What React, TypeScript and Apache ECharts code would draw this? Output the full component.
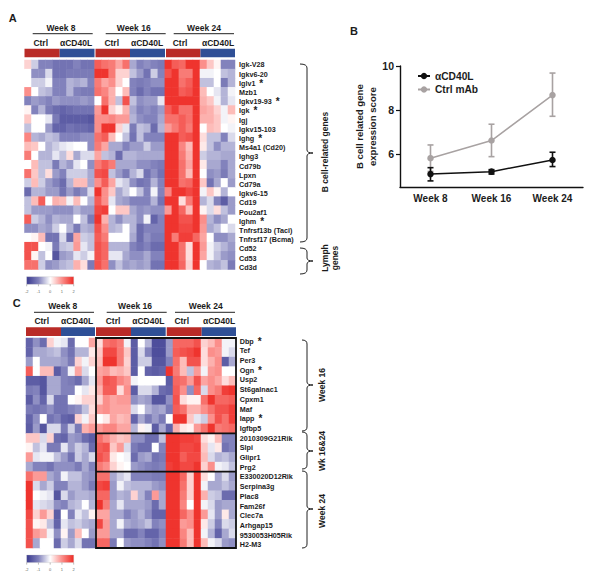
import React, { useEffect, useRef } from "react";
import * as echarts from "echarts";

const FONT = '"Liberation Sans", Arial, sans-serif';
const INK = "#1c1c1c";

const genesA = ["Igk-V28","Igkv6-20","Iglv1 *","Mzb1","Igkv19-93 *","Igk *","Igj","Igkv15-103","Ighg *","Ms4a1 (Cd20)","Ighg3","Cd79b","Lpxn","Cd79a","Igkv6-15","Cd19","Pou2af1","Ighm *","Tnfrsf13b (Taci)","Tnfrsf17 (Bcma)","Cd52","Cd53","Cd3d"];
const genesC = ["Dbp *","Tef","Per3","Ogn *","Usp2","St6galnac1","Cpxm1","Maf","Iapp *","Igfbp5","2010309G21Rik","Slpi","Glipr1","Prg2","E330020D12Rik","Serpina3g","Plac8","Fam26f","Clec7a","Arhgap15","9530053H05Rik","H2-M3"];

const heatA: number[][] = [
[.4,-.4,-1,-1,-1.2,-1.2,-1.2,-1,-1.2,-1.2, 1.5,1.3,1.2,.8,1.3,-.7,-1,-.9,-1,-1.1, 1.9,1.5,1.4,1.9,1.9,1,.5,.1,-1,-1],
[0,-.9,-.9,-.3,-1.2,-1.2,-1.1,-1.1,-1.1,-1.1, 1.9,1.9,1.2,.4,.4,-.5,-.8,-1.2,-.4,-1, 1.6,1.9,1.2,1.2,1.9,-.1,-.1,0,-.5,-.6],
[0,-.4,-.4,-.1,-1,-1,-.6,-.7,-.6,-1, 1.2,.8,1,.4,0,-1,-1.1,-1,-.9,-.9, 1.9,1.9,1.3,1.5,1.9,-.5,-.5,0,-1.1,-.6],
[1,0,-.5,-.6,-1,-1,-.6,-1,-1.1,-1.1, 1.3,1.1,.7,0,.6,-1,-1.3,-1,-1.2,-1.2, 1.9,1.9,1.5,1.6,1.9,.6,0,-.2,-.6,-.1],
[-1,-.8,-.9,-1,-.8,-.9,-.9,-.9,-.8,-.9, 0,1.3,.7,-.5,1.6,-.5,-.9,-.8,-.8,-.2, 1.9,1.9,1.9,1.9,1.9,.7,.5,-.1,-.6,-.2],
[.1,-1,-.6,-1.1,-1.3,-1.4,-1.3,-1.2,-1.2,-1.2, .9,1.9,.4,.1,.7,-.7,-1,-.9,-1,-.8, 1.5,1.8,1.3,1.3,1.9,.8,.7,.4,-.1,.6],
[.5,0,0,-.2,-1.1,-1.5,-1.5,-1.5,-1.5,-1.6, 1,1,1.1,.9,.9,-.6,-.9,-1,-1,-.7, 1.3,1.3,1.5,1.3,1.9,.7,.7,.5,-.1,.1],
[-.5,0,0,-.8,-1.4,-1.4,-1.2,-1.3,-1.3,-1.4, 1,1.9,1.9,.4,-.2,-1.1,-.5,-.6,-1.3,-.6, .9,1.2,1.5,1.2,1.9,0,.6,.5,0,-.1],
[1.1,-.6,-.7,-.5,-.6,-1,-1,-1,-.9,-.9, 1.3,1.5,.6,0,-.5,-1.2,-.5,-1,-1,-1, 1.9,1.9,1.5,1.6,1.9,.3,-.5,-.5,-1,-.3],
[.6,.5,0,-.6,-.4,-.2,-.1,0,0,-.9, 1.2,.8,-.7,-.7,-1,-.8,-.8,-.4,-.8,-.8, 1.9,1.9,1.1,.6,1.9,.2,-.5,-.9,-.6,-.6],
[1.2,0,-.6,-.6,-.2,-.5,.3,-.7,-.3,-.3, .8,-.5,-.6,-1.3,-.6,-.6,-.7,-.7,-.7,-.7, 1.9,1.9,1.2,.7,1.9,-.4,-.6,-.6,-.7,-.7],
[0,.6,-.5,-.5,-1.1,-.6,-.8,-.2,0,-.9, 1.2,1.5,1.2,-.7,-.7,-.7,-.9,-.9,-1,-1.1, 1.9,1.9,1.3,.8,1.9,.2,-.7,-.7,-1,-.7],
[1.3,.5,-.5,.3,-.8,-1,-.4,-.4,-.4,-.7, 1.6,1.7,-.5,-.8,-1.1,-.6,-.3,-1.2,-.9,-1.2, 1.9,1.9,1.3,.6,1.9,0,-.9,-.8,-1.1,-.7],
[-.4,.6,-.4,-.8,-1,-1.3,-.6,.6,.6,-.7, 1,1.5,.8,-.2,-.4,-.9,-1.2,-1.1,-.6,-1, 1.9,1.9,1.3,1.4,1.9,.5,-1.2,-.7,0,-.8],
[-1.3,-.6,-.6,-.8,-.8,-1.2,-.8,-1.1,-.9,-.3, 1.9,1,.5,-.7,-.4,0,-.5,-1,-.1,-1, 1.1,1.9,1.9,1.7,1.9,-.1,.5,.1,-.6,0],
[-.5,.6,1.5,0,.7,.6,-.1,.6,0,-.6, 1.5,1,-.2,-.7,-.8,-1,-1,-1,-.6,-1.2, 1.9,1.9,.3,1.2,1.9,-.6,-.3,-1,-1.5,-.8],
[-.5,-.8,-.8,-.8,-.9,-.9,-.9,-.6,-.8,-.8, 1.7,1.8,0,.5,.5,-.7,-.9,-.8,-.9,-.9, .9,1.9,1.4,.6,1.9,.1,-.3,.3,-.5,-.8],
[1.5,-.4,-.6,-.9,-.6,-.7,-.7,0,-.5,-1.1, 1.9,.7,-.6,-.9,-.6,-.6,-.9,-.1,-1.4,-1, 1.9,1.9,1.6,1.6,1.9,1,-.6,-.9,-.7,0],
[-.9,-.9,-.7,-.8,-.4,0,-.6,-1.1,-.6,-.7, 1.6,1,-.6,-.5,0,-.6,-1.3,-1,-1,-1, 1.9,1.9,1.7,1.7,1.9,.9,-.7,-.5,0,-.3],
[0,.1,.6,-1.2,-1.2,-.3,-1.3,.8,-.4,-.5, 1.5,1.2,0,0,0,-.7,-1.3,-.9,-1.1,-1.1, 1.9,1.2,1.8,1.8,1.4,.8,0,-.9,-.9,-.7],
[1.6,1.6,0,-.1,-1.1,-.5,-.4,.9,-.2,-.5, 1.6,1.4,-.6,-.6,-.6,-1,-1.2,-1,-1.3,-1.3, 1.9,1.9,1.3,.3,1.9,.9,-.1,-.4,-.6,-.8],
[1.6,.1,-.5,0,-1.6,-.8,-.7,-.2,-.4,-.1, 1.6,1.4,-.2,-.2,-.7,-.9,-.9,-.7,-1,-1, 1.9,1.9,1.3,.3,1.9,.8,-.1,-.5,-.8,-.9],
[1.3,1.3,-.4,-.9,-.8,-.6,-.5,.7,.3,-1.1, 1.6,1.3,-.9,-.5,-.8,-.7,-.8,-.7,-1.2,-1.2, 1.9,1.9,1.4,.4,1.9,0,-.6,-.7,-.5,-1.1],
];

const heatC: number[][] = [
[-1.4,-.9,-1.3,.4,-.1,-.2,-1.3,0,0,.8, .3,1.3,1.4,1.2,-.1,-1.5,0,-.6,-1.7,-1.7, -.8,1.4,1.4,1.4,1.6,.4,.6,1,-.1,-.1],
[-1.4,-.7,-.7,-.6,-.5,-.9,-1.2,-.6,-.6,.2, .5,1.7,1.7,1.2,.5,-1.5,-.3,-1,-1.7,-1.7, -.8,1.5,1.6,1.7,1.9,.3,1,.9,-.1,-.3],
[-.8,0,-.7,-.7,-.7,-.8,-1.1,.4,-.1,.4, .6,1.9,1.9,1.2,.4,-1.5,-.4,-.4,-1.6,-1.6, -1,1.3,.6,1.6,1.6,.3,.7,1,-1.5,-.7],
[1.5,0,.6,.6,-1.5,-1,-.1,.8,-.3,0, .8,.9,.6,.7,.5,-1.5,0,-1.4,-1.5,-1.4, 1.9,1.2,.6,-.5,.9,-.1,.9,1,0,0],
[-1.5,-1.5,-1.6,-.7,-.7,-1,-1.1,-1.3,-.7,-.2, .9,1.6,1.5,1.1,.9,-.1,0,0,0,0, -1.5,1.4,1.3,.9,1.6,.8,1,.8,.3,.6],
[-1.1,-1,-1.6,-.7,-.7,-1,-1,0,-.2,.2, .7,1.5,1.5,.3,1,-1.5,-.3,-.3,-.6,-1.3, -1.4,1.5,1,-.9,1.4,-.3,1,1.2,1.8,1.9],
[-1.5,-.9,-1.4,-.3,-1.2,-1.2,0,.1,.4,.4, .4,1,.8,.9,.9,-.9,-.7,-.8,-1.6,-1.6, -.9,1.6,.3,.1,.1,1.3,1.9,1.4,1.4,1.5],
[-1.1,-1.2,-1.1,-.9,-1.2,-1.2,-1,-.9,-.5,.3, .9,1,.8,.8,.8,-.3,0,-.6,-.8,-.7, -1.1,1.5,1.3,.7,.7,1,1.3,1.6,1.6,1.8],
[-1.4,-.9,0,-1.2,-1,-1.4,-1.5,.4,-.1,.5, 0,.2,.8,.6,.7,-1.4,-.7,-1.1,-.8,-1.1, 0,1.9,1.9,.5,-.2,-.4,1,1.6,1.3,1.8],
[-1.5,-.8,-1.6,-.3,-.3,-1.1,-.4,-1.1,.7,.9, .9,1.1,1.1,.8,.8,-.6,.1,-.1,-1.5,-.7, -1.4,.7,.2,.1,.9,1.3,1.9,1.2,1.3,1.4],
[.5,.5,-.3,.4,-1.3,-1.4,-.8,-.9,-1.3,-1.5, 1.3,1,.7,.5,.6,-.9,-.9,-1.3,-1.3,-.5, 1.9,1.9,1.8,1.8,1.7,.3,.1,.6,-1,-1],
[.1,-.5,-.2,-1.1,-1.1,-.2,-.8,-.4,-.6,-1.3, 1.5,1.6,.5,.9,-.3,-1.1,-1.3,-1.3,0,-1, 1.9,1.9,1.7,1.7,1.8,.5,-.2,.2,-1.2,-1],
[.9,-.2,-.1,-.1,-.5,-.8,-1.2,-.4,-.7,-.3, 1.6,1.4,.2,0,-.1,-1.3,-.8,-.7,-1.2,-1.1, 1.9,1.9,1.5,1.7,1.7,.6,-.3,-.6,-.5,-.7],
[-.7,-1,-1,-1.2,-.9,-.9,-.9,-1.1,-.7,-1, 1.2,1,.4,.1,0,-.8,-.9,-1,-1.1,-1, 1.8,1.9,1.7,1.7,1.9,.4,1,-.1,-.2,-.5],
[1.3,.9,.9,-.7,-.9,-.1,-.5,-.5,-.8,-.9, 1.3,1.3,-.7,-.4,-.2,-1,-1,-1,-1.1,-1.1, 1.9,1.9,1.4,.4,1.9,.3,0,-.7,-.3,-.8],
[1.9,-.3,-.7,-.4,-1,-1,-.6,-.6,-.8,-1.1, 1.7,1.8,-.8,-.1,-.5,-.6,-.6,-.6,-.8,-.9, 1.9,1.9,1.3,.4,1.9,-.1,-.7,-.7,-.5,-.7],
[1.9,0,-.1,-.2,-1.6,-.3,-.8,-.6,-.6,-.7, 1.4,1.4,-.8,-.6,-.7,.4,-.6,-1,.9,-.7, 1.9,1.9,1.2,.4,1.9,.7,-.4,-.5,-1.3,-1.3],
[1.9,-.2,-.3,-.4,-.9,-1,-.6,-.5,0,-.6, 1.9,1.2,-.7,-.2,-.7,-.7,-.7,-.8,-1.3,-.7, 1.9,1.9,1.1,0,1.9,-.1,-.3,-.8,-.7,-.7],
[1.7,.4,.9,.4,-1.5,0,-1,-.2,-.5,.1, .8,.8,-.7,-.7,-1,-.8,-.6,-.9,-1.4,-1.4, 1.9,1.9,1.4,1,1.9,.9,-.2,-.8,.2,-.7],
[1.6,.1,.2,-.5,-1.4,-.2,-.5,-.4,-.6,-.7, 1.7,.9,-.7,-.1,-.7,-.8,-.7,-.5,-1,-.9, 1.9,1.9,.9,1,1.9,.2,-.4,-1,-.3,-.4],
[1.6,.9,.7,-.1,-.9,.1,-.8,.6,0,-.8, .9,.9,-.7,-.7,-1.3,-1.3,-1,-1.4,-1.4,-1, 1.9,1.9,1.1,.6,1.9,-.1,-.6,-1.4,-.7,-.3],
[1.6,-.7,0,0,-1.3,-.4,-.7,-.3,-1.2,-1.2, 1.4,1.4,-1.1,0,-.8,-.9,-.9,-1,-1.2,-.9, 1.9,1.9,1.2,.6,1.9,.6,-.1,-.3,-.8,-.9],
];

const weeks = ["Week 8", "Week 16", "Week 24"];
const scoreAntiCD40L = [5.1, 5.21, 5.74];
const scoreAntiLow = [4.79, 5.1, 5.44];
const scoreAntiHigh = [5.39, 5.3, 6.09];
const scoreCtrl = [5.82, 6.62, 8.68];
const scoreCtrlLow = [5.22, 5.89, 7.72];
const scoreCtrlHigh = [6.42, 7.36, 9.68];
const yTicks = [6, 8, 10];
const colorScale = ["#38388e", "#8282bc", "#ffffff", "#fb8f8b", "#ee2a24"];
const legendTicks = ["-2", "-1", "0", "1", "2"];

const cells = (rows: number[][]) =>
  rows.flatMap((row, y) => row.map((v, x) => [x, y, v]));

const colNames = Array.from({ length: 30 }, (_, i) => String(i));

function brace(name: string, top: number, mid: number, bot: number, x0 = 300) {
  const x1 = 307, x2 = 313;
  const d = `M${x0} ${top}Q${x1} ${top} ${x1} ${top + 4}L${x1} ${mid - 3}Q${x1} ${mid} ${x2} ${mid}Q${x1} ${mid} ${x1} ${mid + 3}L${x1} ${bot - 4}Q${x1} ${bot} ${x0} ${bot}`;
  echarts.graphic.registerShape(name, echarts.graphic.extendPath(d, {}));
  return { type: name, x: 0, y: 0, silent: true, style: { fill: "none", stroke: "#222", lineWidth: 1 } };
}

const txt = (text: string, x: number, y: number, fontSize = 8.5, extra: any = {}) => ({
  type: "text", x, y, rotation: extra.rotation ?? 0, silent: true,
  style: {
    text, fill: INK, font: `bold ${fontSize}px ${FONT}`,
    textAlign: extra.align ?? "center", textVerticalAlign: "middle",
  },
});
const vtxt = (text: string, x: number, y: number, fontSize = 8.5) =>
  txt(text, x, y, fontSize, { rotation: Math.PI / 2 });

const hline = (x1: number, x2: number, y: number) => ({
  type: "line", silent: true, shape: { x1, y1: y, x2, y2: y }, style: { stroke: "#222", lineWidth: 1 },
});
const rect = (x: number, y: number, width: number, height: number, fill: string) => ({
  type: "rect", silent: true, shape: { x, y, width, height }, style: { fill },
});

function colourKey(x: number, y: number) {
  const w = 47, h = 7.6;
  const items: any[] = [{
    type: "rect", silent: true, shape: { x, y, width: w, height: h },
    style: {
      fill: new echarts.graphic.LinearGradient(0, 0, 1, 0,
        colorScale.map((color, i) => ({ offset: i / (colorScale.length - 1), color }))),
      stroke: "#bbb", lineWidth: 0.3,
    },
  }];
  legendTicks.forEach((t, i) => {
    const tx = x + (w * i) / 4;
    items.push({ type: "line", silent: true, shape: { x1: tx, y1: y + h, x2: tx, y2: y + h + 2 }, style: { stroke: "#777", lineWidth: 0.5 } });
    items.push({
      type: "text", x: tx, y: y + h + 7, silent: true,
      style: { text: t, fill: "#666", font: `4px ${FONT}`, textAlign: "center", textVerticalAlign: "middle" },
    });
  });
  return items;
}

function header(yWeek: number, yLine: number, ySub: number, yBar: number, xs: any) {
  const items: any[] = [];
  weeks.forEach((w, i) => {
    items.push(txt(w, xs.week[i], yWeek));
    items.push(hline(xs.line[i][0], xs.line[i][1], yLine));
    items.push(txt("Ctrl", xs.ctrl[i], ySub));
    items.push(txt("αCD40L", xs.anti[i], ySub));
    items.push(rect(xs.bar[i][0], yBar, xs.bar[i][1] - xs.bar[i][0], 8.6, "#b92b27"));
    items.push(rect(xs.bar[i][1], yBar, xs.bar[i][2] - xs.bar[i][1], 8.6, "#2f4f96"));
  });
  return items;
}

const boxLeft = 96, boxRight = 236, boxTop = 338, boxBottom = 548;
const rowC = (boxBottom - boxTop) / genesC.length;

function errorSeries(low: number[], high: number[], color: string, xAxisIndex: number, yAxisIndex: number) {
  return {
    type: "custom", xAxisIndex, yAxisIndex, silent: true, z: 3,
    data: low.map((l, i) => [i, l, high[i]]),
    encode: { x: 0, y: [1, 2] },
    renderItem: (_p: any, api: any) => {
      const a = api.coord([api.value(0), api.value(1)]);
      const b = api.coord([api.value(0), api.value(2)]);
      const st = { stroke: color, lineWidth: 1.6, fill: "none" };
      const seg = (x1: number, y1: number, x2: number, y2: number) => ({ type: "line", shape: { x1, y1, x2, y2 }, style: st });
      return {
        type: "group",
        children: [seg(a[0], a[1], b[0], b[1]), seg(a[0] - 3, a[1], a[0] + 3, a[1]), seg(b[0] - 3, b[1], b[0] + 3, b[1])],
      };
    },
  };
}

export default function App() {
  const ref = useRef<HTMLDivElement>(null);
  useEffect(() => {
    document.body.style.margin = "0";
    document.body.style.background = "#fff";
    const chart = echarts.init(ref.current!, undefined, { renderer: "svg" });
    const labelAxis = (names: string[], gridIndex: number) => ({
      type: "category", gridIndex, data: names, inverse: true, position: "right",
      axisLine: { show: false }, axisTick: { show: false },
      axisLabel: {
        interval: 0, margin: 0, align: "left", color: INK, fontFamily: FONT, fontWeight: "bold", fontSize: 7.2,
        formatter: (v: string) => (v.endsWith(" *") ? `${v.slice(0, -2)}  {s|*}` : v),
        rich: { s: { fontSize: 10, fontWeight: "bold", fontFamily: FONT, color: INK, lineHeight: 10 } },
      },
    });
    const heatAxis = (names: string[], gridIndex: number) => ({
      type: "category", gridIndex, data: names, inverse: true, show: false,
    });
    chart.setOption({
      animation: false,
      backgroundColor: "#fff",
      textStyle: { fontFamily: FONT },
      grid: [
        { left: 24.5, top: 60, width: 210.5, height: 209.5 },
        { left: 26, top: boxTop, width: 210, height: boxBottom - boxTop },
        { left: 400, top: 66, width: 183, height: 121.3 },
        { left: 238, top: 60.3, width: 1, height: 211.5 },
        { left: 238.7, top: 336.2, width: 1, height: 213.6 },
      ],
      xAxis: [
        { type: "category", gridIndex: 0, data: colNames, show: false },
        { type: "category", gridIndex: 1, data: colNames, show: false },
        {
          type: "category", gridIndex: 2, data: weeks,
          axisLine: { lineStyle: { color: "#111", width: 1.4 } },
          axisTick: { alignWithLabel: true, length: 4, lineStyle: { color: "#111", width: 1.2 } },
          axisLabel: { color: INK, fontFamily: FONT, fontWeight: "bold", fontSize: 10, margin: 6 },
        },
        { type: "value", gridIndex: 3, show: false },
        { type: "value", gridIndex: 4, show: false },
      ],
      yAxis: [
        heatAxis(genesA, 0),
        heatAxis(genesC, 1),
        {
          type: "value", gridIndex: 2, min: 4.5, max: 10,
          splitLine: { show: false },
          axisLine: { show: true, lineStyle: { color: "#111", width: 1.4 } },
          axisTick: { show: true, customValues: yTicks, length: 4, lineStyle: { color: "#111", width: 1.2 } },
          axisLabel: { customValues: yTicks, color: INK, fontFamily: FONT, fontWeight: "bold", fontSize: 10.5, margin: 6 },
          name: "B cell related gene\nexpression score",
          nameLocation: "middle", nameGap: 12, nameRotate: 90,
          nameTextStyle: { color: INK, fontFamily: FONT, fontWeight: "bold", fontSize: 9.6, lineHeight: 12.5 },
        },
        labelAxis(genesA, 3),
        labelAxis(genesC, 4),
      ],
      visualMap: {
        show: false, type: "continuous", min: -2, max: 2, seriesIndex: [0, 1],
        inRange: { color: colorScale },
      },
      legend: {
        orient: "vertical", left: 412, top: 66, itemWidth: 12, itemHeight: 8, itemGap: 3.5,
        data: ["αCD40L", "Ctrl mAb"],
        textStyle: { color: INK, fontFamily: FONT, fontWeight: "bold", fontSize: 10.2 },
      },
      series: [
        { type: "heatmap", xAxisIndex: 0, yAxisIndex: 0, data: cells(heatA), silent: true, progressive: 0 },
        { type: "heatmap", xAxisIndex: 1, yAxisIndex: 1, data: cells(heatC), silent: true, progressive: 0 },
        errorSeries(scoreCtrlLow, scoreCtrlHigh, "#a8a2a2", 2, 2),
        {
          type: "line", name: "Ctrl mAb", xAxisIndex: 2, yAxisIndex: 2, data: scoreCtrl, z: 4,
          symbol: "circle", symbolSize: 6.5, color: "#a8a2a2", lineStyle: { width: 1.5, color: "#a8a2a2" },
        },
        errorSeries(scoreAntiLow, scoreAntiHigh, "#111", 2, 2),
        {
          type: "line", name: "αCD40L", xAxisIndex: 2, yAxisIndex: 2, data: scoreAntiCD40L, z: 5,
          symbol: "circle", symbolSize: 6.5, color: "#111", lineStyle: { width: 1.5, color: "#111" },
        },
      ],
      graphic: {
        elements: [
          txt("A", 12.7, 18, 11),
          txt("B", 354, 31, 11),
          txt("C", 16.7, 303, 11),
          ...header(27.7, 33.7, 43, 48.7, {
            week: [61, 133.7, 204],
            line: [[32.7, 92.7], [105.7, 165.7], [173.7, 234]],
            ctrl: [40.7, 111.7, 180],
            anti: [76, 147, 218],
            bar: [[24.5, 59.7, 94.5], [95.5, 130, 165], [166, 200.5, 235]],
          }),
          ...header(306, 312.3, 321.3, 327.3, {
            week: [62.7, 135, 205.7],
            line: [[34, 94], [106.7, 166.7], [175, 235]],
            ctrl: [41.7, 113, 181.7],
            anti: [77, 148.3, 219],
            bar: [[26, 61, 95], [96, 131, 165.7], [166.7, 201.7, 236]],
          }),
          {
            type: "rect", silent: true, z: 10,
            shape: { x: boxLeft, y: boxTop, width: boxRight - boxLeft, height: boxBottom - boxTop },
            style: { fill: "none", stroke: "#111", lineWidth: 1.8 },
          },
          { ...hline(boxLeft, boxRight, boxTop + rowC * 10), z: 10, style: { stroke: "#111", lineWidth: 1.8 } },
          { ...hline(boxLeft, boxRight, boxTop + rowC * 14), z: 10, style: { stroke: "#111", lineWidth: 1.8 } },
          brace("braceB", 64, 153, 242),
          brace("braceL", 248, 261, 274),
          brace("braceW16", 340, 385, 431, 302),
          brace("braceW1624", 432, 451, 469, 302),
          brace("braceW24", 471, 509, 548, 302),
          vtxt("B cell-related genes", 325, 152),
          vtxt("Lymph", 325, 258),
          vtxt("genes", 335, 258),
          vtxt("Week 16", 322, 385),
          vtxt("Wk 16&24", 322, 451),
          vtxt("Week 24", 322, 511),
          ...colourKey(26.7, 276.7),
          ...colourKey(26.7, 555),
        ],
      },
    });
    return () => chart.dispose();
  }, []);
  return <div ref={ref} style={{ position: "absolute", left: 0, top: 0, width: 615, height: 583 }} />;
}
